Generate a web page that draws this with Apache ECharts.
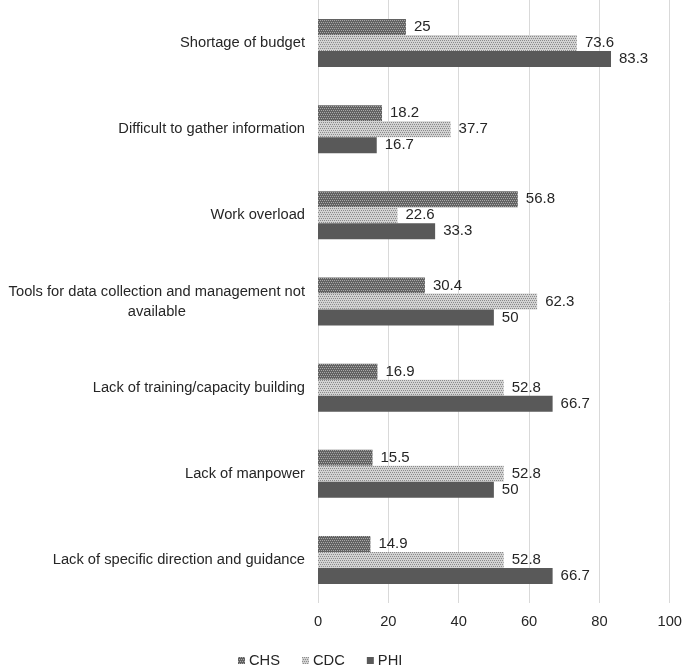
<!DOCTYPE html>
<html><head><meta charset="utf-8">
<script src="https://cdn.jsdelivr.net/npm/echarts@6/dist/echarts.min.js"></script>
<style>html,body{margin:0;padding:0;background:#fff}#c{width:685px;height:669px}</style>
</head><body><div id="c"></div>
<script>
const categories = [
  "Shortage of budget",
  "Difficult to gather information",
  "Work overload",
  "Tools for data collection and management not\navailable",
  "Lack of training/capacity building",
  "Lack of manpower",
  "Lack of specific direction and guidance"
];
const seriesNames = ["CHS", "CDC", "PHI"];
const chsValues = [25, 18.2, 56.8, 30.4, 16.9, 15.5, 14.9];
const cdcValues = [73.6, 37.7, 22.6, 62.3, 52.8, 52.8, 52.8];
const phiValues = [83.3, 16.7, 33.3, 50, 66.7, 50, 66.7];
const xTicks = [0, 20, 40, 60, 80, 100];

function pattern(a, b) {
  const c = document.createElement('canvas');
  c.width = 4; c.height = 4;
  const g = c.getContext('2d');
  g.fillStyle = a; g.fillRect(0, 0, 4, 4);
  g.fillStyle = b;
  g.fillRect(0, 0, 1, 1); g.fillRect(2, 0, 1, 1);
  g.fillRect(1, 2, 1, 1); g.fillRect(3, 2, 1, 1);
  return c;
}
const chsFill = {image: pattern('#626262', '#a8a8a8'), repeat: 'repeat'};
const cdcFill = {image: pattern('#d2d2d2', '#8a8a8a'), repeat: 'repeat'};
const phiFill = '#595959';

const FONT = 'Liberation Sans, Arial, sans-serif';
const chart = echarts.init(document.getElementById('c'));
const lbl = {show: true, position: 'right', distance: 8, color: '#262626', fontSize: 15, fontFamily: FONT};
function mk(name, data, color) {
  return {name, type: 'bar', data, barWidth: 16, barGap: '0%', itemStyle: {color}, label: lbl};
}
chart.setOption({
  animation: false,
  textStyle: {fontFamily: FONT},
  grid: {left: 318, right: 13, top: 0, bottom: 66, containLabel: false},
  legend: {
    top: 648, left: 233, padding: 5, itemWidth: 7, itemHeight: 7, itemGap: 22,
    icon: 'rect',
    textStyle: {fontSize: 14.7, color: '#262626', padding: [0, 0, 0, -1]},
    data: seriesNames
  },
  xAxis: {
    type: 'value', min: 0, max: 100, interval: 20,
    axisLine: {show: false}, axisTick: {show: false},
    splitLine: {lineStyle: {color: '#d9d9d9', width: 1}},
    axisLabel: {fontSize: 14.7, color: '#262626', margin: 11, formatter: v => xTicks.includes(v) ? String(v) : ''}
  },
  yAxis: {
    type: 'category', inverse: true, data: categories,
    axisLine: {show: false}, axisTick: {show: false},
    axisLabel: {
      fontSize: 14.7, color: '#262626', margin: 13, lineHeight: 20,
      formatter: v => v.includes('\n') ? v.split('\n').map(s => '{c|' + s + '}').join('\n') : v,
      rich: {c: {align: 'center', fontSize: 14.7, color: '#262626', lineHeight: 20}}
    }
  },
  series: [
    mk(seriesNames[0], chsValues, chsFill),
    mk(seriesNames[1], cdcValues, cdcFill),
    mk(seriesNames[2], phiValues, phiFill)
  ]
});
</script></body></html>
